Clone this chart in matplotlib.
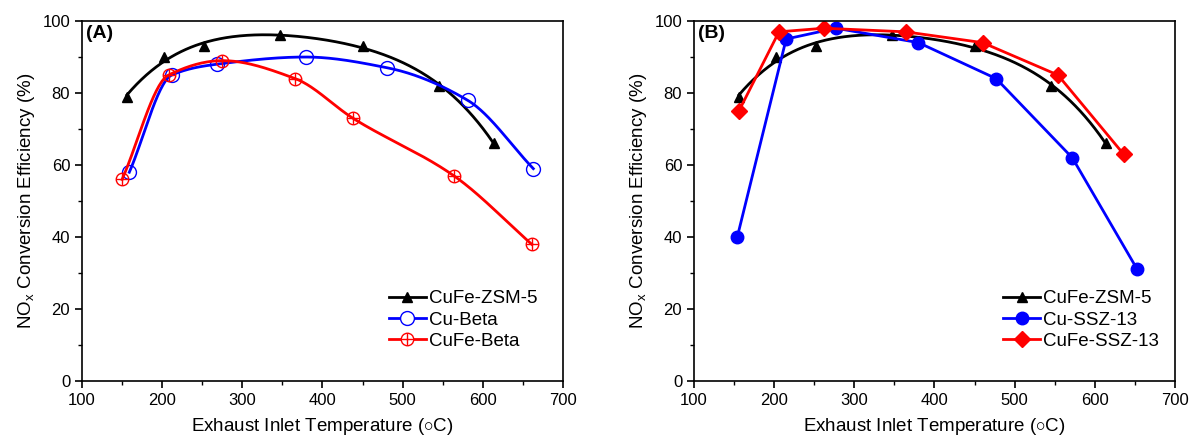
import numpy as np
import matplotlib
matplotlib.use('Agg')
import matplotlib.pyplot as plt
from matplotlib.ticker import MultipleLocator

plt.rcParams['font.family'] = ['Liberation Sans', 'DejaVu Sans']
plt.rcParams['mathtext.fontset'] = 'custom'
plt.rcParams['mathtext.rm'] = 'Liberation Sans'

# data
zsm5_x = [156, 202, 252, 347, 451, 545, 614]
zsm5_y = [79, 90, 93, 96, 93, 82, 66]

cubeta_x = [159, 212, 268, 379, 481, 581, 663]
cubeta_y = [58, 85, 88, 90, 87, 78, 59]

cufebeta_x = [150, 208, 275, 366, 438, 564, 661]
cufebeta_y = [56, 85, 89, 84, 73, 57, 38]

cussz_x = [154, 215, 277, 380, 477, 572, 653]
cussz_y = [40, 95, 98, 94, 84, 62, 31]

cufessz_x = [156, 206, 262, 364, 460, 554, 636]
cufessz_y = [75, 97, 98, 97, 94, 85, 63]


def pchip(x, y, n=300):
    # monotone cubic (Fritsch-Carlson), only to draw a smooth line
    x = np.asarray(x, float); y = np.asarray(y, float)
    h = np.diff(x); d = np.diff(y) / h
    m = np.zeros_like(y)
    for i in range(1, len(x) - 1):
        if d[i - 1] * d[i] > 0:
            w1 = 2 * h[i] + h[i - 1]; w2 = h[i] + 2 * h[i - 1]
            m[i] = (w1 + w2) / (w1 / d[i - 1] + w2 / d[i])
    m[0] = d[0]; m[-1] = d[-1]
    xs = np.linspace(x[0], x[-1], n)
    j = np.clip(np.searchsorted(x, xs) - 1, 0, len(x) - 2)
    t = (xs - x[j]) / h[j]
    h00 = 2 * t**3 - 3 * t**2 + 1; h10 = t**3 - 2 * t**2 + t
    h01 = -2 * t**3 + 3 * t**2; h11 = t**3 - t**2
    ys = h00 * y[j] + h10 * h[j] * m[j] + h01 * y[j + 1] + h11 * h[j] * m[j + 1]
    return xs, ys


def polyline(x, y, deg=4, n=300):
    p = np.polyfit(x, y, deg)
    xs = np.linspace(min(x), max(x), n)
    return xs, np.polyval(p, xs)


fig = plt.figure(figsize=(11.92, 4.38), dpi=100)
axA = fig.add_axes([0.0688, 0.130, 0.4035, 0.822])
axB = fig.add_axes([0.5822, 0.130, 0.4035, 0.822])

# ---- panel A
xs, ys = polyline(zsm5_x, zsm5_y)
axA.plot(xs, ys, color='black', lw=2)
axA.plot(zsm5_x, zsm5_y, '^', color='black', ms=7)
hA1, = axA.plot([], [], '^-', color='black', lw=2, ms=7)

xs, ys = pchip(cubeta_x, cubeta_y)
axA.plot(xs, ys, color='blue', lw=2)
axA.plot(cubeta_x, cubeta_y, 'o', mfc='none', mec='blue', ms=10, mew=1)
hA2, = axA.plot([], [], 'o-', color='blue', mfc='white', mec='blue', ms=10, mew=1, lw=2)

xs, ys = pchip(cufebeta_x, cufebeta_y)
axA.plot(xs, ys, color='red', lw=2)
axA.plot(cufebeta_x, cufebeta_y, 'o', mfc='none', mec='red', ms=9, mew=1)
axA.plot(cufebeta_x, cufebeta_y, '+', color='red', ms=9, mew=1)
hA3a, = axA.plot([], [], 'o-', color='red', mfc='white', mec='red', ms=9, mew=1, lw=2)
hA3b, = axA.plot([], [], '+', color='red', ms=9, mew=1)

axA.legend([hA1, hA2, (hA3a, hA3b)], ['CuFe-ZSM-5', 'Cu-Beta', 'CuFe-Beta'],
           loc='lower left', bbox_to_anchor=(0.61, 0.05), frameon=False,
           fontsize=13.5, handlelength=2.0, handletextpad=0.15, labelspacing=0.22,
           borderpad=0.2)
axA.text(0.008, 0.99, '(A)', transform=axA.transAxes, fontsize=14,
         fontweight='bold', va='top', ha='left')

# ---- panel B
xs, ys = polyline(zsm5_x, zsm5_y)
axB.plot(xs, ys, color='black', lw=2)
axB.plot(zsm5_x, zsm5_y, '^', color='black', ms=7)
hB1, = axB.plot([], [], '^-', color='black', lw=2, ms=7)
hB2, = axB.plot(cussz_x, cussz_y, 'o-', color='blue', ms=9, lw=2)
hB3, = axB.plot(cufessz_x, cufessz_y, 'D-', color='red', ms=8, lw=2)
axB.legend([hB1, hB2, hB3], ['CuFe-ZSM-5', 'Cu-SSZ-13', 'CuFe-SSZ-13'],
           loc='lower left', bbox_to_anchor=(0.615, 0.05), frameon=False,
           fontsize=13.5, handlelength=2.0, handletextpad=0.15, labelspacing=0.22,
           borderpad=0.2)
axB.text(0.008, 0.99, '(B)', transform=axB.transAxes, fontsize=14,
         fontweight='bold', va='top', ha='left')

for ax in (axA, axB):
    ax.set_xlim(100, 700)
    ax.set_ylim(0, 100)
    ax.xaxis.set_major_locator(MultipleLocator(100))
    ax.xaxis.set_minor_locator(MultipleLocator(50))
    ax.yaxis.set_major_locator(MultipleLocator(20))
    ax.yaxis.set_minor_locator(MultipleLocator(10))
    ax.tick_params(which='major', direction='out', length=5, width=1.2, labelsize=12)
    ax.tick_params(which='minor', direction='out', length=3, width=1)
    for s in ax.spines.values():
        s.set_linewidth(1.2)
    ax.set_xlabel(r'Exhaust Inlet Temperature ($\circ$C)', fontsize=13.5, labelpad=6)
    ax.set_ylabel(r'NO$_\mathrm{x}$ Conversion Efficiency (%)', fontsize=13.5)

fig.savefig('out.png', dpi=100)
